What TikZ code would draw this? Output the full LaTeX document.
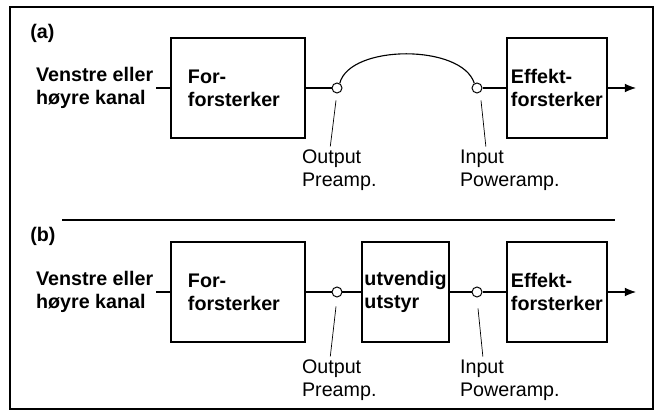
\documentclass[tikz,border=0pt]{standalone}
\usepackage{fontspec}
\setmainfont{Liberation Sans}
\usetikzlibrary{arrows.meta,positioning}

\begin{document}
\begin{tikzpicture}[x=0.025cm, y=-0.025cm,
  block/.style={rectangle, draw, line width=1pt, minimum height=2.5cm, align=left, font=\bfseries\fontsize{14}{16.4}\selectfont, inner ysep=2pt},
  jack/.style={circle, draw, fill=white, line width=0.7pt, minimum size=0.25cm, inner sep=0pt},
  src/.style={align=left, font=\bfseries\fontsize{14}{16.4}\selectfont, inner sep=2pt},
  tag/.style={align=left, font=\fontsize{14}{16.4}\selectfont, inner sep=2pt},
  panel/.style={font=\bfseries\fontsize{14}{16.4}\selectfont, inner sep=0pt},
  wire/.style={line width=0.8pt},
  sig/.style={line width=0.8pt, -{Latex[length=2.8mm,width=2.2mm]}},
  lead/.style={line width=0.5pt}
]
  \useasboundingbox (0,0) rectangle (657,412);
  \def\prex{238} \def\utvx{405.5} \def\effx{557} \def\ox{337} \def\ix{477}
  \def\ya{88} \def\yb{292}

  \draw[line width=1.4pt] (10,7) rectangle (653,409);
  \draw[line width=1pt] (62,220) -- (615,220);

  \node[panel, anchor=west] (pa) at (30,33) {(a)};
  \node[src, anchor=west] (srcA) at (33,\ya) {Venstre eller\\høyre kanal};
  \node[block, text width=2.5cm, inner xsep=0.425cm] (preA) at (\prex,\ya) {For-\\forsterker};
  \node[jack] (oA) at (\ox,\ya) {};
  \node[jack] (iA) at (\ix,\ya) {};
  \node[block, text width=2.3cm, inner xsep=0.1cm] (effA) at (\effx,\ya) {Effekt-\\forsterker};
  \coordinate (outA) at (636,\ya);
  \node[tag, anchor=west] (olA) at (299,170) {Output\\Preamp.};
  \node[tag, anchor=west] (ilA) at (457,170) {Input\\Poweramp.};

  \draw[wire] (srcA) -- (preA);
  \draw[wire] (preA) -- (oA);
  \draw[wire] (oA.60) .. controls (350,44) and (462,44) .. (iA.120);
  \draw[wire] (iA) -- (effA);
  \draw[sig] (effA) -- (outA);
  \draw[lead] ([shift={(-1,7)}]oA.south) -- ([xshift=-0.225cm]olA.north);
  \draw[lead] ([shift={(4,7)}]iA.south) -- ([xshift=-0.6cm]ilA.north);

  \node[panel, anchor=west] (pb) at (30,236) {(b)};
  \node[src, anchor=west] (srcB) at (33,\yb) {Venstre eller\\høyre kanal};
  \node[block, text width=2.5cm, inner xsep=0.425cm] (preB) at (\prex,\yb) {For-\\forsterker};
  \node[jack] (oB) at (\ox,\yb) {};
  \node[block, text width=2.05cm, inner xsep=0.06cm] (utvB) at (\utvx,\yb) {utvendig\\utstyr};
  \node[jack] (iB) at (\ix,\yb) {};
  \node[block, text width=2.3cm, inner xsep=0.1cm] (effB) at (\effx,\yb) {Effekt-\\forsterker};
  \coordinate (outB) at (636,\yb);
  \node[tag, anchor=west] (olB) at (299,380) {Output\\Preamp.};
  \node[tag, anchor=west] (ilB) at (457,380) {Input\\Poweramp.};

  \draw[wire] (srcB) -- (preB);
  \draw[wire] (preB) -- (oB);
  \draw[wire] (oB) -- (utvB);
  \draw[wire] (utvB) -- (iB);
  \draw[wire] (iB) -- (effB);
  \draw[sig] (effB) -- (outB);
  \draw[lead] ([shift={(-1,9)}]oB.south) -- ([xshift=-0.225cm]olB.north);
  \draw[lead] ([shift={(1,11)}]iB.south) -- ([xshift=-0.675cm]ilB.north);
\end{tikzpicture}
\end{document}
